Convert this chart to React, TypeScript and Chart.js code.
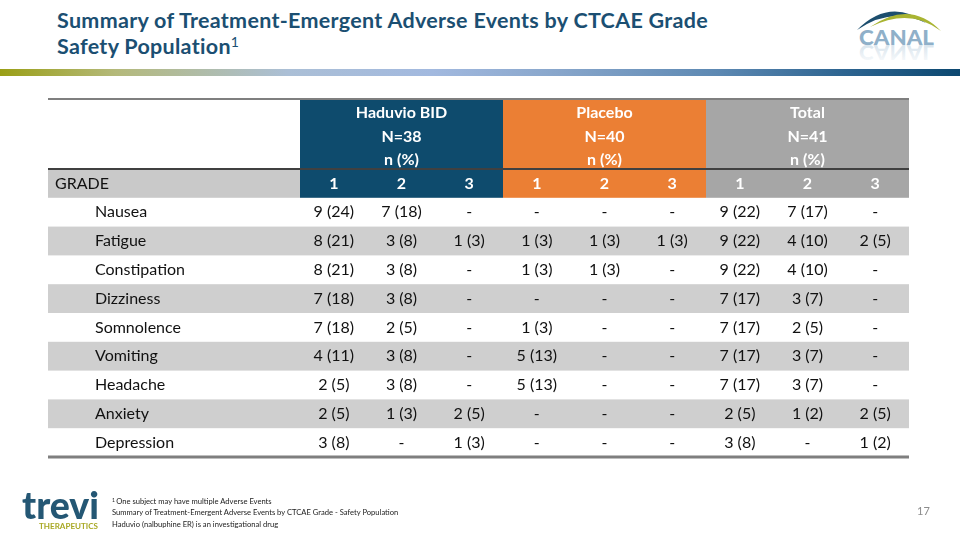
import React, { useEffect, useRef } from "react";
import { Chart, registerables } from "chart.js";

Chart.register(...registerables);

// ---- data ----
const groups = ["Haduvio BID", "Placebo", "Total"];
const groupN = ["N=38", "N=40", "N=41"];
const groupUnit = "n (%)";
const grades = ["1", "2", "3"];
const gradeLabel = "GRADE";
const events = ["Nausea", "Fatigue", "Constipation", "Dizziness", "Somnolence", "Vomiting", "Headache", "Anxiety", "Depression"];

// counts per event: [grade1, grade2, grade3]; null = "-"
const haduvioN = [[9, 7, null], [8, 3, 1], [8, 3, null], [7, 3, null], [7, 2, null], [4, 3, null], [2, 3, null], [2, 1, 2], [3, null, 1]];
const haduvioPct = [[24, 18, null], [21, 8, 3], [21, 8, null], [18, 8, null], [18, 5, null], [11, 8, null], [5, 8, null], [5, 3, 5], [8, null, 3]];
const placeboN = [[null, null, null], [1, 1, 1], [1, 1, null], [null, null, null], [1, null, null], [5, null, null], [5, null, null], [null, null, null], [null, null, null]];
const placeboPct = [[null, null, null], [3, 3, 3], [3, 3, null], [null, null, null], [3, null, null], [13, null, null], [13, null, null], [null, null, null], [null, null, null]];
const totalN = [[9, 7, null], [9, 4, 2], [9, 4, null], [7, 3, null], [7, 2, null], [7, 3, null], [7, 3, null], [2, 1, 2], [3, null, 1]];
const totalPct = [[22, 17, null], [22, 10, 5], [22, 10, null], [17, 7, null], [17, 5, null], [17, 7, null], [17, 7, null], [5, 2, 5], [8, null, 2]];

const titleLine1 = "Summary of Treatment-Emergent Adverse Events by CTCAE Grade";
const titleLine2 = "Safety Population";
const footnotes = [
  "One subject may have multiple Adverse Events",
  "Summary of Treatment-Emergent Adverse Events by CTCAE Grade - Safety Population",
  "Haduvio (nalbuphine ER) is an investigational drug",
];
const pageNumber = "17";

// ---- styles ----
const groupColors = ["#0E4B6D", "#EB7F34", "#A6A6A6"];
const gradeRowGray = "#C9C9C9";
const stripeGray = "#CFCFCF";
const titleColor = "#1B4F72";
const FONT = "Lato, 'Open Sans', sans-serif";
const LABEL_SPAN = 3.724; // label column width in data-column units
const HEADER_SPAN = 2.43; // header block height in row units

const fmt = (n: number | null, p: number | null) => (n == null ? "-" : `${n} (${p})`);

const tablePlugin = {
  id: "tablePlugin",
  afterDraw(chart: any) {
    const { ctx } = chart;
    const xs = chart.scales.x;
    const ys = chart.scales.y;
    const X = (v: number) => xs.getPixelForValue(v);
    const Y = (v: number) => ys.getPixelForValue(v);
    const nCols = groups.length * grades.length;
    const nRows = events.length;
    ctx.save();

    // stripes
    events.forEach((_, i) => {
      if (i % 2 === 1) {
        ctx.fillStyle = stripeGray;
        ctx.fillRect(X(-LABEL_SPAN), Y(1 + i), X(nCols) - X(-LABEL_SPAN), Y(2 + i) - Y(1 + i));
      }
    });
    // grade row label area
    ctx.fillStyle = gradeRowGray;
    ctx.fillRect(X(-LABEL_SPAN), Y(0), X(0) - X(-LABEL_SPAN), Y(1) - Y(0));
    // group blocks
    groups.forEach((_, g) => {
      ctx.fillStyle = groupColors[g];
      const x0 = Math.round(X(g * 3));
      const x1 = Math.round(X(g * 3 + 3));
      ctx.fillRect(x0, Y(-HEADER_SPAN), x1 - x0, Y(1) - Y(-HEADER_SPAN));
    });

    // lines
    const hline = (yv: number, color: string, w: number) => {
      ctx.strokeStyle = color;
      ctx.lineWidth = w;
      ctx.beginPath();
      ctx.moveTo(X(-LABEL_SPAN), Y(yv));
      ctx.lineTo(X(nCols), Y(yv));
      ctx.stroke();
    };
    hline(-HEADER_SPAN, "#7F7F7F", 2);
    hline(0, "#404040", 2);
    hline(nRows + 1, "#7F7F7F", 3);

    // header text
    ctx.textBaseline = "middle";
    ctx.textAlign = "center";
    ctx.fillStyle = "#FFFFFF";
    ctx.font = `bold 16px ${FONT}`;
    const hTop = Y(-HEADER_SPAN);
    const hH = Y(0) - hTop;
    groups.forEach((name, g) => {
      const cx = X(g * 3 + 1.5);
      ctx.fillText(name, cx, hTop + hH * 0.2);
      ctx.fillText(groupN[g], cx, hTop + hH * 0.54);
      ctx.fillText(groupUnit, cx, hTop + hH * 0.87);
      grades.forEach((gr, k) => ctx.fillText(gr, X(g * 3 + k + 0.5), Y(0.5)));
    });

    // body text
    ctx.fillStyle = "#111111";
    ctx.font = `16px ${FONT}`;
    ctx.textAlign = "left";
    ctx.fillText(gradeLabel, X(-LABEL_SPAN) + 7, Y(0.5));
    const sets = [[haduvioN, haduvioPct], [placeboN, placeboPct], [totalN, totalPct]];
    events.forEach((ev, i) => {
      ctx.textAlign = "left";
      ctx.fillText(ev, X(-LABEL_SPAN) + 47, Y(1.5 + i));
      ctx.textAlign = "center";
      sets.forEach(([ns, ps], g) => {
        grades.forEach((_, k) => {
          ctx.fillText(fmt(ns[i][k], ps[i][k]), X(g * 3 + k + 0.5), Y(1.5 + i));
        });
      });
    });
    ctx.restore();
  },
};

function TableChart() {
  const ref = useRef<HTMLCanvasElement>(null);
  useEffect(() => {
    if (!ref.current) return;
    const chart = new Chart(ref.current, {
      type: "bar",
      data: { labels: [], datasets: [] },
      options: {
        animation: false,
        responsive: false,
        devicePixelRatio: 1,
        layout: { padding: { left: 48, right: 51, top: 99, bottom: 83 } },
        plugins: { legend: { display: false }, tooltip: { enabled: false }, title: { display: false } },
        scales: {
          x: { type: "linear", offset: false, min: -LABEL_SPAN, max: groups.length * grades.length, display: false },
          y: { type: "linear", offset: false, reverse: true, min: -HEADER_SPAN, max: events.length + 1, display: false },
        },
      },
      plugins: [tablePlugin],
    });
    return () => chart.destroy();
  }, []);
  return <canvas ref={ref} width={960} height={540} style={{ position: "absolute", left: 0, top: 0 }} />;
}

function CanalLogo() {
  return (
    <svg width={110} height={65} style={{ position: "absolute", left: 840, top: 0 }}>
      <defs>
        <linearGradient id="refl" x1="0" y1="0" x2="0" y2="1">
          <stop offset="0" stopColor="#8FB0C9" stopOpacity="0" />
          <stop offset="1" stopColor="#8FB0C9" stopOpacity="0.4" />
        </linearGradient>
      </defs>
      <path d="M17,30 Q50,-3 86,23 Q52,6 17,30 Z" fill="#1C4E6E" />
      <path d="M30,27 Q70,-1 101,31 Q70,7 30,27 Z" fill="#A9B431" />
      <text x={19} y={45} fontFamily={FONT} fontWeight="900" fontSize={21} fill="#8FB0C9" textLength={75} lengthAdjust="spacingAndGlyphs">CANAL</text>
      <g transform="translate(0,90) scale(1,-1)">
        <text x={19} y={45} fontFamily={FONT} fontWeight="900" fontSize={21} fill="url(#refl)" textLength={75} lengthAdjust="spacingAndGlyphs">CANAL</text>
      </g>
    </svg>
  );
}

function TreviLogo() {
  return (
    <svg width={90} height={45} style={{ position: "absolute", left: 15, top: 486 }}>
      <text x={7} y={33} fontFamily={FONT} fontWeight="900" fontSize={38} fill="#245774" textLength={77} lengthAdjust="spacingAndGlyphs">trevi</text>
      <text x={24} y={43} fontFamily={FONT} fontWeight="bold" fontSize={7.5} fill="#A8A824" textLength={59} lengthAdjust="spacingAndGlyphs">THERAPEUTICS</text>
    </svg>
  );
}

export default function App() {
  return (
    <div style={{ position: "fixed", left: 0, top: 0, width: 960, height: 540, background: "#FFFFFF", overflow: "hidden", fontFamily: FONT }}>
      <div style={{ position: "absolute", left: 57, top: 7, color: titleColor, fontWeight: "bold", fontSize: 21.5, letterSpacing: "0.3px", lineHeight: "26px", whiteSpace: "nowrap" }}>
        <div>{titleLine1}</div>
        <div>
          {titleLine2}
          <span style={{ fontWeight: "normal", fontSize: 14, position: "relative", top: -7, lineHeight: 0 }}>1</span>
        </div>
      </div>
      <div style={{ position: "absolute", left: 0, top: 69, width: 960, height: 7, background: "linear-gradient(to right, #9A9F16 0%, #B4B97A 12%, #ABBFD6 30%, #A2B9DF 45%, #88A6CB 58%, #5C88B2 75%, #2D6490 88%, #0C4870 100%)" }} />
      <CanalLogo />
      <TableChart />
      <TreviLogo />
      <div style={{ position: "absolute", left: 112, top: 495.5, fontSize: 7.6, lineHeight: "11.6px", color: "#222222", whiteSpace: "nowrap" }}>
        {footnotes.map((f, i) => (
          <div key={i}>
            {i === 0 ? <span style={{ fontSize: 5, position: "relative", top: -2, lineHeight: 0 }}>1 </span> : null}
            {f}
          </div>
        ))}
      </div>
      <div style={{ position: "absolute", left: 917, top: 504, fontSize: 11, color: "#8C8C8C" }}>{pageNumber}</div>
    </div>
  );
}
